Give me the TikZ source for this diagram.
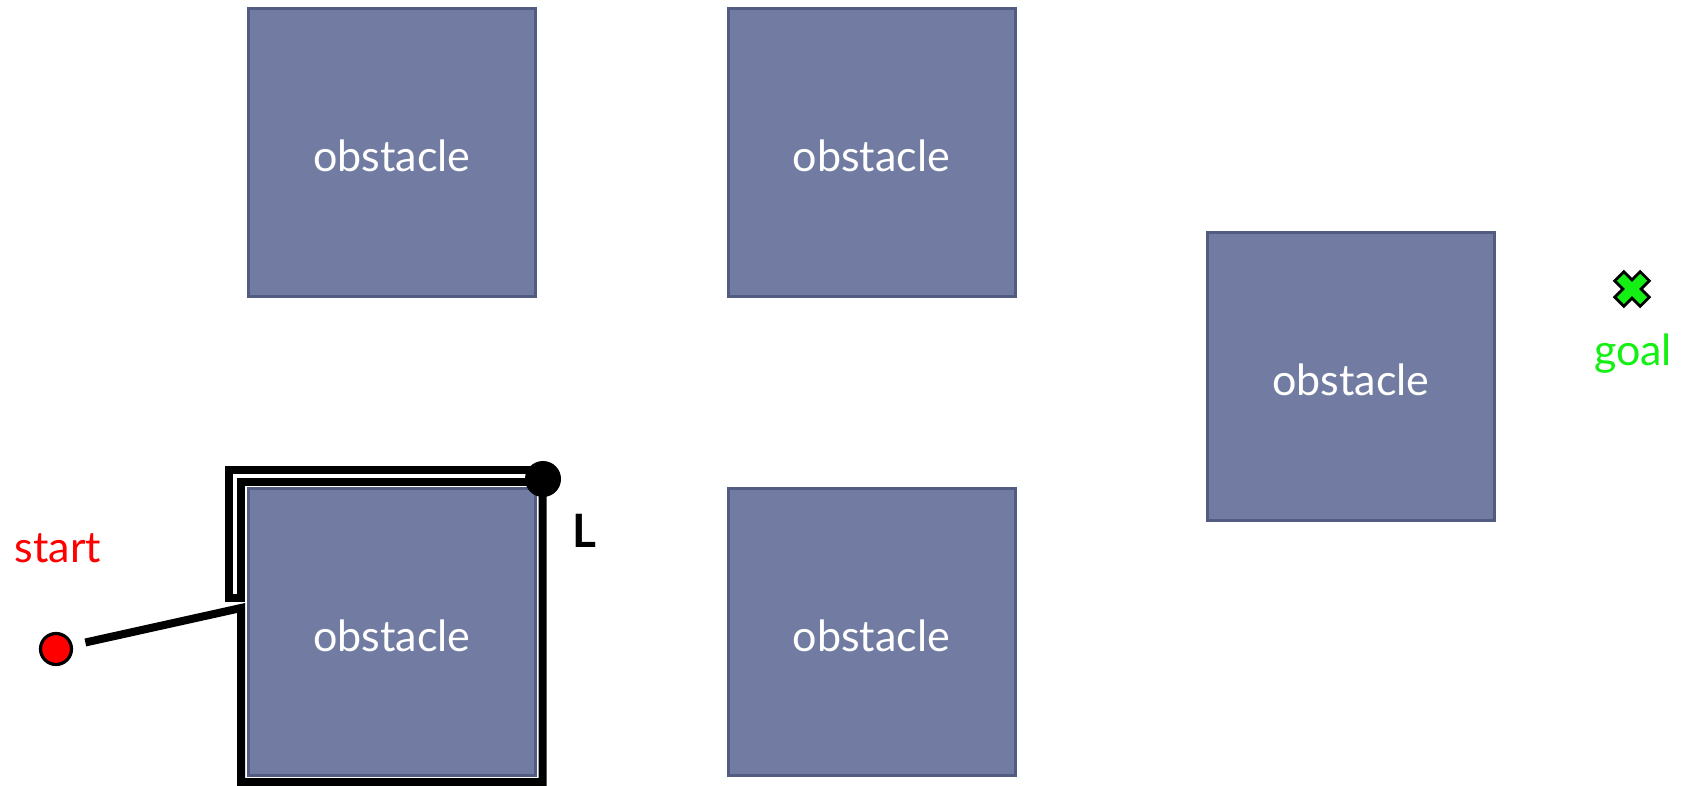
\documentclass[tikz,border=0pt]{standalone}
\usepackage{fontspec}
\setmainfont{Lato}
\definecolor{obsfill}{RGB}{114,124,162}
\definecolor{obsedge}{RGB}{82,92,128}
\definecolor{startred}{RGB}{255,0,0}
\definecolor{goalgreen}{RGB}{20,240,20}
\tikzset{
  obstacle/.style={draw=obsedge, fill=obsfill, line width=1.5pt,
    minimum width=143.5pt, minimum height=143.5pt, inner sep=0pt,
    text height=19pt, text depth=0pt, text=white,
    font=\fontsize{21.5}{26}\selectfont},
  label/.style={inner sep=0pt, font=\fontsize{21.5}{26}\selectfont},
  route/.style={draw=black, line width=4pt, line join=miter},
  retrace/.style={draw=black, line width=3.9pt, double=white,
    double distance=2pt, line join=miter, line cap=rect},
  startdot/.style={circle, draw=black, fill=startred, line width=1.6pt,
    minimum size=15.5pt, inner sep=0pt},
  hitdot/.style={circle, fill=black, minimum size=18pt, inner sep=0pt},
  goalmark/.style={draw=black, fill=goalgreen, line width=1.4pt, line join=miter}
}
\begin{document}
\begin{tikzpicture}[x=0.5pt, y=-0.5pt]
  \path[use as bounding box] (0,0) rectangle (1690,786);

  % obstacles
  \node[obstacle] (o1) at (392,152.5) {obstacle};
  \node[obstacle] (o2) at (871.5,152.5) {obstacle};
  \node[obstacle] (o3) at (1351,376.5) {obstacle};
  \node[obstacle] (o4) at (392,632) {obstacle};
  \node[obstacle] (o5) at (871.5,632) {obstacle};

  % start and hit point
  \node[startdot] (start) at (56,649) {};
  \node[label, text=startred] (startlbl) at (58,548) {start};
  \coordinate (hit) at (543,479);
  \node[label, font=\fontsize{23}{26}\selectfont\bfseries] (llbl) at (584,531) {L};

  % corners of the boundary walk
  \coordinate (c1) at (241,608);
  \coordinate (c2) at (241,782);
  \coordinate (c3) at (542.5,782);
  \coordinate (c4) at (542.5,479);
  \coordinate (d1) at (235,476);
  \coordinate (d2) at (235,592);

  % path taken: to the obstacle, then around it
  \draw[route, shorten <=6.5pt] (start) -- (c1) -- (c2) -- (c3) -- (c4);
  % second pass along the top and left side
  \draw[retrace] (hit |- d1) -- (d1) -- (d2);
  \node[hitdot] (ldot) at (hit) {};

  % goal
  \coordinate (goal) at (1632,289);
  \draw[goalmark, shift={(goal)}, rotate=45]
    (6.5,6.5) -- (18,6.5) -- (18,-6.5) -- (6.5,-6.5) -- (6.5,-18) -- (-6.5,-18) -- (-6.5,-6.5)
    -- (-18,-6.5) -- (-18,6.5) -- (-6.5,6.5) -- (-6.5,18) -- (6.5,18) -- cycle;
  \node[label, text=goalgreen] (goallbl) at (1633,354) {goal};
\end{tikzpicture}
\end{document}
